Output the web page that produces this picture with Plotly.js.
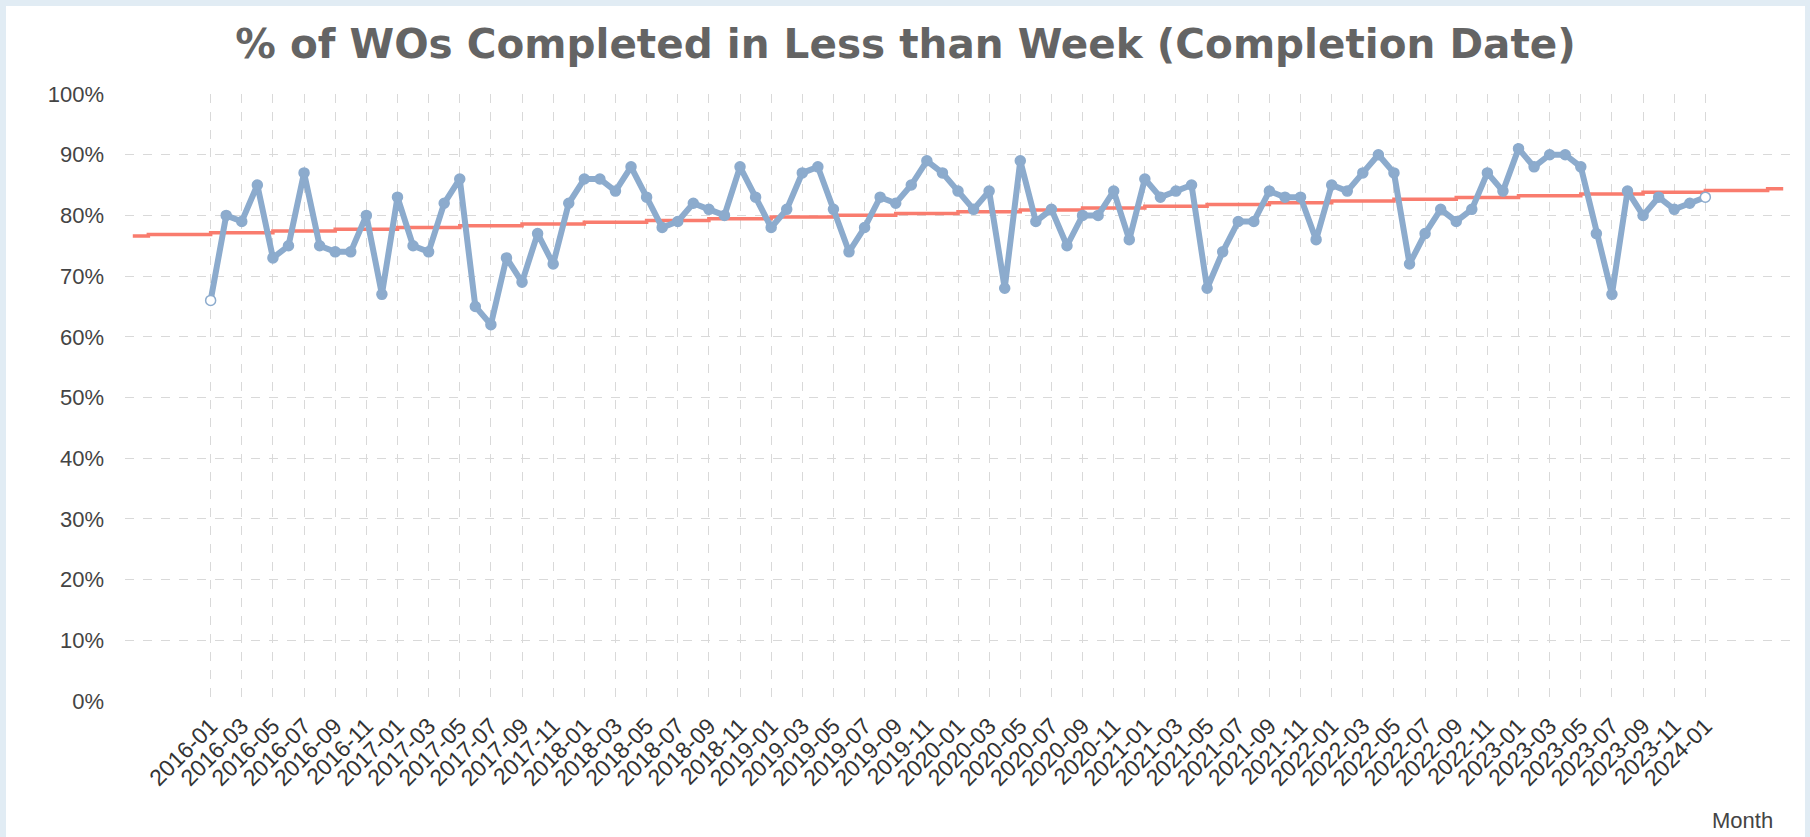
<!DOCTYPE html>
<html>
<head>
<meta charset="utf-8">
<script src="https://cdn.plot.ly/plotly-3.0.1.min.js"></script>
<style>
  html, body { margin: 0; padding: 0; background: #e1ecf4; width: 1810px; height: 837px; overflow: hidden; }
  #chart { position: absolute; left: 6px; top: 6px; width: 1799px; height: 831px; background: #ffffff; }
</style>
</head>
<body>
<div id="chart"></div>
<script>
// Monthly categories of the data series
const months = [
  "2016-01","2016-02","2016-03","2016-04","2016-05","2016-06","2016-07","2016-08","2016-09","2016-10","2016-11","2016-12",
  "2017-01","2017-02","2017-03","2017-04","2017-05","2017-06","2017-07","2017-08","2017-09","2017-10","2017-11","2017-12",
  "2018-01","2018-02","2018-03","2018-04","2018-05","2018-06","2018-07","2018-08","2018-09","2018-10","2018-11","2018-12",
  "2019-01","2019-02","2019-03","2019-04","2019-05","2019-06","2019-07","2019-08","2019-09","2019-10","2019-11","2019-12",
  "2020-01","2020-02","2020-03","2020-04","2020-05","2020-06","2020-07","2020-08","2020-09","2020-10","2020-11","2020-12",
  "2021-01","2021-02","2021-03","2021-04","2021-05","2021-06","2021-07","2021-08","2021-09","2021-10","2021-11","2021-12",
  "2022-01","2022-02","2022-03","2022-04","2022-05","2022-06","2022-07","2022-08","2022-09","2022-10","2022-11","2022-12",
  "2023-01","2023-02","2023-03","2023-04","2023-05","2023-06","2023-07","2023-08","2023-09","2023-10","2023-11","2023-12",
  "2024-01"
];

// % of WOs completed in less than a week
const pctCompleted = [
  66, 80, 79, 85, 73, 75, 87, 75, 74, 74, 80, 67,
  83, 75, 74, 82, 86, 65, 62, 73, 69, 77, 72, 82,
  86, 86, 84, 88, 83, 78, 79, 82, 81, 80, 88, 83,
  78, 81, 87, 88, 81, 74, 78, 83, 82, 85, 89, 87,
  84, 81, 84, 68, 89, 79, 81, 75, 80, 80, 84, 76,
  86, 83, 84, 85, 68, 74, 79, 79, 84, 83, 83, 76,
  85, 84, 87, 90, 87, 72, 77, 81, 79, 81, 87, 84,
  91, 88, 90, 90, 88, 77, 67, 84, 80, 83, 81, 82,
  83
];

// Trend line (drawn as a stepped line in the reference)
const trendMonths = [
  "2015-08","2015-09","2016-01","2016-05","2016-09","2017-01","2017-05","2017-09",
  "2018-01","2018-05","2018-09","2019-01","2019-05","2019-09","2020-01","2020-05",
  "2020-09","2021-01","2021-05","2021-09","2022-01","2022-05","2022-09","2023-01",
  "2023-05","2023-09","2024-01","2024-05","2024-06"
];
const trendValues = [
  76.60, 76.85, 77.14, 77.43, 77.72, 78.01, 78.30, 78.59,
  78.88, 79.17, 79.46, 79.75, 80.04, 80.33, 80.62, 80.91,
  81.20, 81.49, 81.78, 82.07, 82.36, 82.65, 82.94, 83.23,
  83.52, 83.81, 84.10, 84.39, 84.39
];

// Tick labels shown on the x axis (every second month)
const tickMonths = months.filter((m, i) => i % 2 === 0);

// Full category order for the axis (axis extends past the data on both sides)
const axisMonths = [];
for (let y = 2015; y <= 2024; y++) {
  for (let m = 1; m <= 12; m++) {
    const s = y + "-" + String(m).padStart(2, "0");
    if (s >= "2015-08" && s <= "2024-06") axisMonths.push(s);
  }
}

const blue = "#8cabcd";
const red = "#f97c6e";
const labelFont = "'Liberation Sans', Arial, sans-serif";

const markerFill = months.map((m, i) => (i === 0 || i === months.length - 1) ? "#ffffff" : blue);

const traces = [
  {
    x: trendMonths,
    y: trendValues,
    type: "scatter",
    mode: "lines",
    line: { color: red, width: 3.5, shape: "hv" },
    name: "Trend",
    hoverinfo: "skip"
  },
  {
    x: months,
    y: pctCompleted,
    type: "scatter",
    mode: "lines+markers",
    line: { color: blue, width: 6 },
    marker: { size: 10, color: markerFill, line: { color: blue, width: 1.5 } },
    name: "% of WOs Completed"
  }
];

const layout = {
  width: 1799,
  height: 831,
  paper_bgcolor: "#ffffff",
  plot_bgcolor: "#ffffff",
  showlegend: false,
  margin: { l: 119, r: 14, t: 87.5, b: 136.3, pad: 0 },
  title: {
    text: "% of WOs Completed in Less than Week (Completion Date)",
    font: { family: "DejaVu Sans", size: 40.5, color: "#646464", weight: "bold" },
    x: 0.5, xanchor: "center",
    y: 1 - 38 / 831, yanchor: "middle",
    xref: "container", yref: "container"
  },
  xaxis: {
    type: "category",
    categoryorder: "array",
    categoryarray: axisMonths,
    range: [-0.5, axisMonths.length - 0.5],
    tickmode: "array",
    tickvals: tickMonths,
    ticktext: tickMonths,
    tickangle: -45,
    tickfont: { family: labelFont, size: 23, color: "#333333" },
    showgrid: true,
    gridcolor: "#d9d9d9",
    griddash: "dash",
    gridwidth: 1,
    showline: false,
    zeroline: false,
    ticks: "",
    ticklabelstandoff: 6,
    fixedrange: true
  },
  yaxis: {
    range: [0, 100],
    tickmode: "linear",
    tick0: 0,
    dtick: 10,
    ticksuffix: "%",
    tickfont: { family: labelFont, size: 22, color: "#444444" },
    showgrid: true,
    gridcolor: "#d9d9d9",
    griddash: "dash",
    gridwidth: 1,
    showline: false,
    zeroline: false,
    ticks: "",
    ticklabelstandoff: 20,
    fixedrange: true
  },
  annotations: [
    {
      text: "Month",
      xref: "paper", yref: "paper",
      x: 0.971, y: -0.1965,
      xanchor: "center", yanchor: "middle",
      showarrow: false,
      font: { family: labelFont, size: 22, color: "#444444" }
    }
  ]
};

Plotly.newPlot("chart", traces, layout, { displayModeBar: false, staticPlot: true });
</script>
</body>
</html>
